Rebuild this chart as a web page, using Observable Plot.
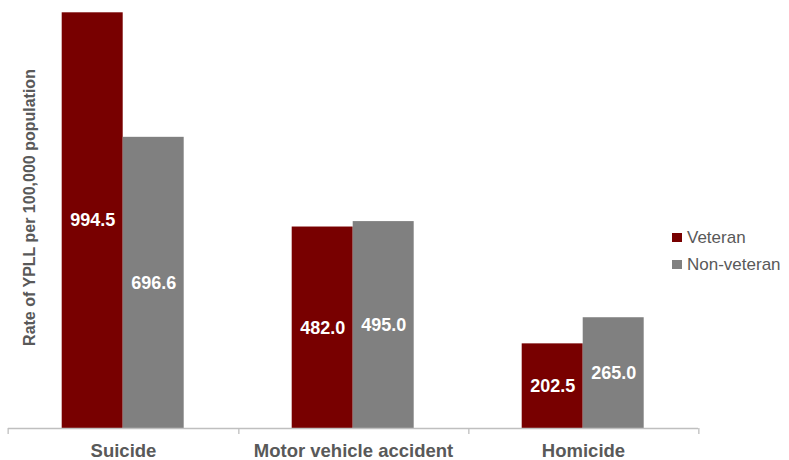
<!DOCTYPE html>
<html><head><meta charset="utf-8">
<script src="https://cdn.jsdelivr.net/npm/d3@7"></script>
<script src="https://cdn.jsdelivr.net/npm/@observablehq/plot@0.6"></script>
<style>
body{margin:0;background:#fff;}
#wrap{position:relative;width:789px;height:460px;font-family:"Liberation Sans",Arial,sans-serif;}
#legend{position:absolute;left:672px;top:224px;color:#595959;font-size:17px;}
#legend div{display:flex;align-items:center;height:27px;white-space:nowrap;}
#legend .sw{width:10px;height:9px;margin-right:5px;}
</style></head><body><div id="wrap"></div>
<script>
const categories = ["Suicide", "Motor vehicle accident", "Homicide"];
const seriesNames = ["Veteran", "Non-veteran"];
const veteran = [994.5, 482.0, 202.5];
const nonVeteran = [696.6, 495.0, 265.0];
const yTitle = "Rate of YPLL per 100,000 population";
const colors = ["#780000", "#808080"];

const rows = categories.flatMap((c, i) => [
  {category: c, series: seriesNames[0], value: veteran[i]},
  {category: c, series: seriesNames[1], value: nonVeteran[i]}
]);

const W = 789, H = 460, ml = 7.3, mr = 89.6;
const step = (W - ml - mr) / categories.length;
const axisColor = "#bfbfbf";

const chart = Plot.plot({
  width: W, height: H,
  marginLeft: ml, marginRight: mr, marginTop: 10, marginBottom: 32,
  style: {fontFamily: '"Liberation Sans", Arial, sans-serif', color: "#595959", background: "#fff"},
  fx: {domain: categories, padding: 0, label: null, axis: null},
  x: {domain: seriesNames, paddingInner: 0, paddingOuter: 0.867, axis: null},
  y: {domain: [0, 1000], axis: null},
  color: {domain: seriesNames, range: colors},
  marks: [
    Plot.barY(rows, {fx: "category", x: "series", y: "value", fill: "series"}),
    Plot.text(rows, {fx: "category", x: "series", y: d => d.value / 2, text: d => d.value.toFixed(1),
      fill: "white", fontWeight: "bold", fontSize: 18}),
    Plot.ruleY([0], {stroke: axisColor, strokeWidth: 1.3}),
    Plot.axisFx({anchor: "bottom", tickSize: 0, tickPadding: 15, fontSize: 18.5, fontWeight: "bold",
      label: null, fill: "#595959"}),
    Plot.axisFx({anchor: "bottom", tickSize: 6, tickFormat: () => "", dx: step / 2, label: null,
      stroke: axisColor, strokeWidth: 1.3}),
    Plot.axisFx({anchor: "bottom", ticks: [categories[0]], tickSize: 6, tickFormat: () => "", dx: -step / 2,
      label: null, stroke: axisColor, strokeWidth: 1.3}),
    Plot.text([yTitle], {facet: "super", frameAnchor: "left", textAnchor: "middle", dx: 21, dy: -12, rotate: -90,
      fontWeight: "bold", fontSize: 16, fill: "#595959"})
  ]
});

const wrap = document.getElementById("wrap");
wrap.appendChild(chart);
const legend = document.createElement("div");
legend.id = "legend";
seriesNames.forEach((s, i) => {
  const row = document.createElement("div");
  const sw = document.createElement("span");
  sw.className = "sw";
  sw.style.background = colors[i];
  row.appendChild(sw);
  row.appendChild(document.createTextNode(s));
  legend.appendChild(row);
});
wrap.appendChild(legend);
</script>
</body></html>
